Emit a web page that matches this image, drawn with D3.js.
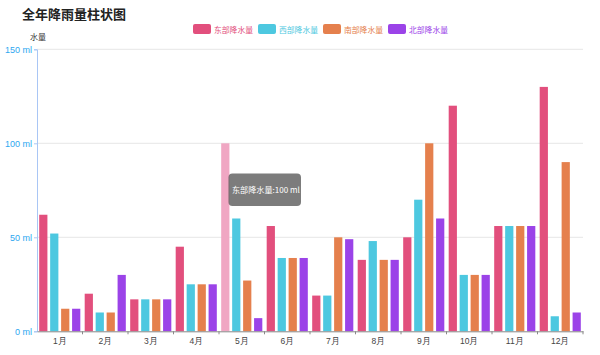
<!DOCTYPE html>
<html>
<head>
<meta charset="utf-8">
<script src="https://cdn.jsdelivr.net/npm/d3@7/dist/d3.min.js"></script>
<style>
  body { margin: 0; background: #fff; }
  svg { display: block; font-family: "Noto Sans CJK SC", "Noto Sans", sans-serif; }
</style>
</head>
<body>
<svg id="chart" width="600" height="355"></svg>
<script>
const categories = ["1月","2月","3月","4月","5月","6月","7月","8月","9月","10月","11月","12月"];
const seriesNames = ["东部降水量","西部降水量","南部降水量","北部降水量"];
const east  = [62, 20, 17, 45, 100, 56, 19, 38, 50, 120, 56, 130];
const west  = [52, 10, 17, 25, 60, 39, 19, 48, 70, 30, 56, 8];
const south = [12, 10, 17, 25, 27, 39, 50, 38, 100, 30, 56, 90];
const north = [12, 30, 17, 25, 7, 39, 49, 38, 60, 30, 56, 10];
const yTicks = [0, 50, 100, 150];
const colors = ["#e24f7d", "#4dc8e0", "#e5804d", "#9b43e8"];
const highlight = { series: 0, index: 4, color: "#f0a7c3" };

const seriesData = [east, west, south, north];

const svg = d3.select("#chart");
const plotLeft = 37, plotRight = 583, plotTop = 49.3, plotBottom = 331.3;

const x = d3.scaleBand().domain(categories).range([plotLeft, plotRight]).paddingInner(0).paddingOuter(0);
const y = d3.scaleLinear().domain([0, 150]).range([plotBottom, plotTop]);
const inner = d3.scaleBand().domain(d3.range(4)).range([0, x.bandwidth()]).paddingInner(0.25).paddingOuter(0.2);

// Title
svg.append("text").attr("x", 22).attr("y", 19).attr("font-size", 13).attr("font-weight", "bold")
  .attr("fill", "#222").text("全年降雨量柱状图");

// Legend
const lg = svg.append("g");
seriesNames.forEach((n, i) => {
  const gx = 193 + i * 65;
  lg.append("rect").attr("x", gx).attr("y", 24).attr("width", 18).attr("height", 10).attr("rx", 2)
    .attr("fill", colors[i]);
  lg.append("text").attr("x", gx + 21).attr("y", 32.5).attr("font-size", 7.8).attr("fill", colors[i]).text(n);
});

// Axis name
svg.append("text").attr("x", 30).attr("y", 40).attr("font-size", 8).attr("fill", "#333").text("水量");

// Grid lines
svg.append("g").selectAll("line").data(yTicks.filter(d => d > 0)).join("line")
  .attr("x1", plotLeft).attr("x2", plotRight).attr("y1", d => y(d)).attr("y2", d => y(d))
  .attr("stroke", "#e6e6e6").attr("stroke-width", 1);

// Bars
const bars = svg.append("g");
seriesData.forEach((vals, s) => {
  bars.selectAll(null).data(vals).join("rect")
    .attr("x", (d, i) => x(categories[i]) + inner(s))
    .attr("width", inner.bandwidth())
    .attr("y", d => y(d))
    .attr("height", d => y(0) - y(d))
    .attr("fill", (d, i) => (s === highlight.series && i === highlight.index) ? highlight.color : colors[s]);
});

// Y axis
const yAxis = d3.axisLeft(y).tickValues(yTicks).tickSize(3).tickFormat(d => d + " ml");
const yg = svg.append("g").attr("transform", `translate(${plotLeft},0)`).call(yAxis);
yg.select(".domain").attr("stroke", "#a9c6f5");
yg.selectAll(".tick line").attr("stroke", "#a9c6f5");
yg.selectAll(".tick text").attr("fill", "#2ea7f0").attr("font-size", 9).attr("x", -5)
  .attr("font-family", "Liberation Sans, Arial, sans-serif");

// X axis
const xAxis = d3.axisBottom(x).tickSize(0).tickSizeOuter(0);
const xg = svg.append("g").attr("transform", `translate(0,${plotBottom})`).call(xAxis);
xg.select(".domain").attr("stroke", "#888");
xg.selectAll(".tick text").attr("fill", "#444").attr("font-size", 8.5).attr("dy", "1.1em");
// boundary ticks between categories
svg.append("g").selectAll("line").data(categories).join("line")
  .attr("x1", (d, i) => plotLeft + (i + 1) * x.step()).attr("x2", (d, i) => plotLeft + (i + 1) * x.step())
  .attr("y1", plotBottom).attr("y2", plotBottom + 3).attr("stroke", "#888");

// Tooltip
const tv = seriesData[highlight.series][highlight.index];
const tt = svg.append("g").attr("transform", "translate(228.5,173.5)");
tt.append("rect").attr("width", 72.5).attr("height", 32.5).attr("rx", 4)
  .attr("fill", "rgba(80,80,80,0.75)");
tt.append("text").attr("x", 3.5).attr("y", 19.5).attr("font-size", 8.1).attr("fill", "#fff")
  .text(`${seriesNames[highlight.series]}:${tv} ml`);
</script>
</body>
</html>
